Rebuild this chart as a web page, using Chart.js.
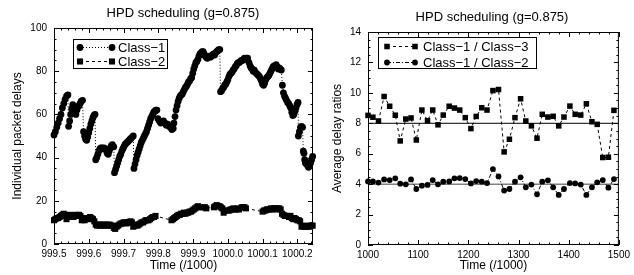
<!DOCTYPE html>
<html>
<head>
<meta charset="utf-8">
<script src="https://cdn.jsdelivr.net/npm/chart.js@4/dist/chart.umd.min.js"></script>
<style>
html,body{margin:0;padding:0;background:#fff;}
#wrap{position:relative;width:634px;height:275px;overflow:hidden;}
#left{position:absolute;left:0;top:0;}
#right{position:absolute;left:320px;top:0;}
</style>
</head>
<body>
<div id="wrap">
  <canvas id="left" width="320" height="275"></canvas>
  <canvas id="right" width="314" height="275"></canvas>
</div>
<script>
/* ===== Data: left panel (time /1000, delay) ===== */
const class1 = [
  [999.500,50.5],[999.504,52],[999.508,54],[999.512,56],[999.516,58],[999.520,60],[999.524,63],[999.528,65],[999.532,67],[999.536,68.5],[999.540,69],
  [999.542,54.5],[999.545,57],[999.548,60],[999.551,62.5],[999.554,64.5],[999.557,63],[999.560,61],[999.563,60],[999.566,62],[999.569,63.5],[999.572,64],[999.575,65],[999.578,66],[999.582,66.5],
  [999.585,52],[999.588,50],[999.591,48.5],[999.594,48],[999.597,49.5],[999.600,51.5],[999.603,53.5],[999.606,55.5],[999.609,57],[999.612,58.5],[999.615,59.5],[999.618,60],
  [999.620,39],[999.623,40],[999.626,41.5],[999.629,43],[999.632,44],[999.635,44.5],[999.638,44.5],[999.641,44],[999.644,44.5],[999.647,44],[999.650,43.5],[999.653,42],[999.656,41.5],[999.659,43],[999.662,44.5],[999.665,45.5],[999.668,46],[999.672,45],
  [999.674,33],[999.677,34.5],[999.680,36],[999.683,37.5],[999.686,39],[999.689,40.5],[999.692,41.5],[999.695,43],[999.698,44],[999.701,45],[999.704,46],[999.707,46.5],[999.710,47],[999.713,47.5],[999.716,48],[999.719,48.5],[999.722,49],[999.725,49.5],[999.728,50],
  [999.730,35],[999.733,37],[999.736,39],[999.739,41],[999.742,42.5],[999.745,44],[999.748,45.5],[999.751,47],[999.754,48],[999.757,49],[999.760,50],[999.763,51],[999.766,52],[999.769,53.5],[999.772,55],[999.775,56.5],[999.778,58],[999.781,59],[999.784,60],[999.787,61],[999.790,61.5],[999.793,62],[999.796,62],
  [999.799,58],[999.803,57],[999.807,56],[999.811,56.5],[999.815,57],[999.819,56],[999.823,55],[999.827,55.5],[999.831,54.5],[999.835,54],[999.839,53],[999.843,53.5],
  [999.845,56],[999.848,59],[999.851,62],[999.854,64],[999.857,66],[999.860,67.5],[999.863,68.5],[999.866,69],[999.869,69.5],[999.872,70.5],[999.875,71.5],[999.878,72.5],[999.881,73],[999.884,74],[999.887,75],[999.890,75.5],[999.893,76.5],[999.896,77],[999.899,79],[999.902,81],[999.905,82.5],[999.908,84],[999.911,84.5],[999.914,85.5],[999.917,87],[999.920,88],[999.923,88.5],[999.926,89],[999.929,89],
  [999.932,88],[999.935,87],[999.938,86.5],[999.941,86],[999.944,86.5],[999.947,87],[999.950,86.5],[999.953,87],[999.956,87.5],[999.959,88],[999.962,87.5],[999.965,88.5],[999.968,89],[999.971,89.5],[999.974,90],[999.977,90],
  [999.979,70.5],[999.982,71],[999.985,72],[999.988,72.5],[999.991,73.5],[999.994,74],[999.997,75],[1000.000,76],[1000.003,77.5],[1000.006,78.5],[1000.009,79],[1000.012,79.5],[1000.015,80.5],[1000.018,81],[1000.021,82],[1000.024,82.5],[1000.027,83.5],[1000.030,84],[1000.033,84],[1000.036,84.5],[1000.039,85],[1000.042,85],[1000.045,85.5],[1000.048,86],[1000.051,85.5],[1000.054,86],[1000.057,86],
  [1000.061,84],[1000.064,82.5],[1000.067,81.5],[1000.070,81],[1000.073,80],[1000.076,80.5],[1000.079,79.5],[1000.082,79],[1000.085,78.5],[1000.088,78],[1000.091,77.5],[1000.094,76.5],[1000.097,75.5],[1000.100,74],[1000.103,73.5],[1000.106,74.5],[1000.109,76],[1000.112,77],[1000.115,77.5],[1000.118,78],[1000.121,79],[1000.124,80],[1000.127,81],[1000.130,82],[1000.133,82.5],[1000.136,82],[1000.139,83],[1000.142,82],[1000.145,81],[1000.148,81.5],[1000.151,81],[1000.154,80.5],
  [1000.157,73.5],[1000.160,70],[1000.163,68.5],[1000.166,67.5],[1000.169,66.5],[1000.172,65.5],[1000.175,65],[1000.178,64],[1000.181,63],[1000.184,61],[1000.187,59.5],[1000.190,60],[1000.193,61.5],[1000.196,63],[1000.199,64.5],[1000.202,65.5],
  [1000.203,50],[1000.206,52],[1000.209,54],[1000.212,54.5],[1000.215,54],
  [1000.217,43],[1000.219,42],[1000.221,39],[1000.223,37.5],[1000.226,37],[1000.229,36.5],[1000.232,35.5],[1000.235,36],[1000.238,37.5],[1000.241,39],[1000.244,40.5]
];
const class2 = [
  [999.500,11],[999.504,11.5],[999.508,12],[999.512,12],[999.516,12.5],[999.520,13],[999.524,13.5],[999.528,14],[999.532,13.5],[999.536,11.5],[999.540,12.5],[999.544,13],[999.548,13.5],[999.552,13],[999.556,12.5],[999.560,13],[999.564,13.5],[999.568,13],[999.572,13.5],[999.576,13],
  [999.580,11],[999.584,11.5],[999.588,11],[999.592,12],[999.596,11.5],[999.600,12],[999.604,12.5],[999.608,12],[999.612,11.5],[999.616,10.5],[999.620,9],[999.624,8.5],[999.628,9],[999.632,8.5],[999.636,9],[999.640,8.5],[999.644,9],[999.648,8.5],[999.652,9],[999.656,8.5],[999.660,9],[999.664,8.5],[999.668,8.5],
  [999.672,7.5],[999.676,7],[999.680,8],[999.684,8.5],[999.688,9],[999.692,9.5],[999.696,9.5],[999.700,10],[999.704,10],[999.708,9.5],[999.712,10],[999.716,10],[999.720,10.5],[999.724,10],[999.728,8],[999.732,8.5],[999.736,9],[999.740,8.5],[999.744,9],[999.748,9.5],[999.752,10],[999.756,10],[999.760,10.5],[999.764,11],[999.768,11],[999.772,11],[999.776,11.5],[999.780,12],[999.784,12.5],[999.788,12.5],[999.792,13],
  [999.838,11],[999.842,11.5],[999.846,12],[999.850,12.5],[999.854,13],[999.858,13.5],[999.862,13.5],[999.866,14],[999.870,14],[999.874,14.5],[999.878,14],[999.882,14.5],[999.886,14.5],[999.890,15],[999.894,15],[999.898,15.5],[999.902,16],[999.906,16.5],[999.910,17],[999.914,17.5],[999.918,17],
  [999.930,17],[999.934,17],[999.938,16.5],
  [999.960,17],[999.964,17.5],[999.968,18],[999.972,17.5],[999.976,17.5],[999.980,17],[999.984,16.5],[999.988,14.5],[999.992,15.5],
  [1000.000,15.5],[1000.004,15.5],[1000.008,16],[1000.012,16],[1000.016,16.5],[1000.020,16],[1000.024,16],[1000.028,16.5],[1000.032,16],
  [1000.040,17],[1000.044,17],[1000.048,17],[1000.052,16.5],
  [1000.100,15],[1000.104,15.5],[1000.108,15.5],[1000.112,16],[1000.116,16],[1000.120,16],[1000.124,16.5],[1000.128,16],[1000.132,16.5],[1000.136,16.5],[1000.140,16],[1000.144,16.5],[1000.148,16.5],[1000.152,16],
  [1000.156,14],[1000.160,13.5],[1000.164,13],[1000.168,13],[1000.172,13],[1000.176,12.5],[1000.180,13],[1000.184,12],[1000.188,11.5],[1000.192,12],[1000.196,11.5],[1000.200,11],[1000.204,11],[1000.208,10.5],
  [1000.212,8],[1000.216,8.5],[1000.220,8],[1000.224,8],[1000.228,8],[1000.232,8.5],[1000.236,8],[1000.240,8.5],[1000.244,8.5]
];
const leftXTicks = [999.5, 999.6, 999.7, 999.8, 999.9, 1000.0, 1000.1, 1000.2];
const leftYTicks = [0, 20, 40, 60, 80, 100];

/* ===== Data: right panel (time /1000, average delay ratio) ===== */
const ratioTimes = [1000, 1009.8, 1020.9, 1032.1, 1043.2, 1054.4, 1064.2, 1075.3, 1085.8, 1096.3,
  1107.4, 1118.6, 1129, 1139.5, 1150, 1161.8, 1172.3, 1182.8, 1193.9, 1205.1,
  1215.6, 1226.7, 1237.2, 1249, 1260.1, 1271.3, 1281.8, 1292.9, 1304.1, 1314.5,
  1325.7, 1336.8, 1347.3, 1358.5, 1369, 1380.1, 1390.6, 1402.4, 1412.9, 1424,
  1435.2, 1446.3, 1456.8, 1467.9, 1479.1, 1490.2];
const ratio13 = [8.52, 8.4, 8.15, 9.76, 9.12, 8.53, 6.84, 8.28, 8.35, 6.9,
  8.87, 8.17, 8.87, 7.9, 8.54, 9.12, 9.0, 8.87, 8.37, 7.65,
  8.45, 9.02, 8.87, 10.15, 10.22, 6.12, 6.95, 8.37, 9.61, 8.15,
  7.83, 7.02, 8.59, 8.41, 8.46, 7.83, 8.41, 9.13, 8.59, 8.54,
  9.28, 8.1, 7.93, 5.75, 5.77, 8.85];
const ratio12 = [4.18, 4.18, 4.1, 4.31, 4.27, 4.38, 4.03, 3.99, 4.31, 3.68,
  3.9, 3.95, 4.27, 3.99, 4.16, 4.18, 4.38, 4.4, 4.33, 4.05,
  4.2, 4.16, 4.07, 4.99, 4.51, 3.58, 3.68, 4.16, 4.45, 3.79,
  3.97, 3.33, 4.16, 4.25, 3.79, 3.29, 3.68, 4.07, 4.05, 3.97,
  3.29, 3.79, 4.12, 4.27, 3.77, 4.33];
const refLevels = [8, 4];
const rightXTicks = [1000, 1100, 1200, 1300, 1400, 1500];
const rightYTicks = [0, 2, 4, 6, 8, 10, 12, 14];

const FONT = "'Liberation Sans', Arial, Helvetica, sans-serif";
Chart.defaults.font.family = FONT;
Chart.defaults.color = '#000';

/* ===== Marker drawing (gnuplot-like filled points) ===== */
function marker(ctx, style, r, x, y){
  ctx.beginPath();
  if (style === 'rect'){ const s = r * Math.SQRT1_2; ctx.rect(x - s, y - s, 2*s, 2*s); }
  else ctx.arc(x, y, r, 0, Math.PI*2);
  ctx.fill();
}

/* ===== Frame, inward ticks, title and boxed legend ===== */
const frameTicks = {
  id: 'frameTicks',
  afterDatasetsDraw(chart, args, o){
    const {ctx, chartArea: a, scales: {x, y}} = chart;
    ctx.save();
    ctx.strokeStyle = '#000'; ctx.lineWidth = 1; ctx.setLineDash([]);
    ctx.strokeRect(a.left + .5, a.top + .5, a.right - a.left - 1, a.bottom - a.top - 1);
    ctx.beginPath();
    const xs = (step, len) => {
      const n = Math.round((x.max - x.min) / step);
      for (let i = 0; i <= n; i++){
        const p = Math.round(x.getPixelForValue(x.min + i*step)) + .5;
        ctx.moveTo(p, a.bottom); ctx.lineTo(p, a.bottom - len);
        ctx.moveTo(p, a.top); ctx.lineTo(p, a.top + len);
      }
    };
    const ys = (step, len) => {
      const n = Math.round((y.max - y.min) / step);
      for (let i = 0; i <= n; i++){
        const p = Math.round(y.getPixelForValue(y.min + i*step)) + .5;
        ctx.moveTo(a.left, p); ctx.lineTo(a.left + len, p);
        ctx.moveTo(a.right, p); ctx.lineTo(a.right - len, p);
      }
    };
    xs(o.xMinor, 2.5); ys(o.yMinor, 2.5);
    x.ticks.forEach(t => { const p = Math.round(x.getPixelForValue(t.value)) + .5;
      ctx.moveTo(p, a.bottom); ctx.lineTo(p, a.bottom - 5); ctx.moveTo(p, a.top); ctx.lineTo(p, a.top + 5); });
    y.ticks.forEach(t => { const p = Math.round(y.getPixelForValue(t.value)) + .5;
      ctx.moveTo(a.left, p); ctx.lineTo(a.left + 5, p); ctx.moveTo(a.right, p); ctx.lineTo(a.right - 5, p); });
    ctx.stroke();

    // title
    ctx.fillStyle = '#000';
    ctx.font = '13px ' + FONT;
    ctx.textAlign = 'center'; ctx.textBaseline = 'alphabetic';
    ctx.fillText(o.title, o.titleX, o.titleY);

    // legend box
    const L = o.legend;
    ctx.strokeRect(L.box[0] + .5, L.box[1] + .5, L.box[2] - L.box[0], L.box[3] - L.box[1]);
    ctx.font = '13px ' + FONT;
    ctx.textAlign = 'left'; ctx.textBaseline = 'middle';
    L.rows.forEach((ry, i) => {
      const ds = chart.data.datasets[i];
      ctx.beginPath();
      ctx.setLineDash(ds.borderDash || []);
      ctx.lineWidth = ds.borderWidth;
      ctx.moveTo(L.x0, ry + .5); ctx.lineTo(L.x1, ry + .5);
      ctx.stroke();
      ctx.setLineDash([]);
      marker(ctx, ds.pointStyle, ds.pointRadius, L.x0, ry + .5);
      marker(ctx, ds.pointStyle, ds.pointRadius, L.x1, ry + .5);
      ctx.fillText(ds.label, L.tx, ry + 1);
    });
    ctx.restore();
  }
};

const tickFont = {size: 10};
const titleFont = {size: 12};
function axisX(min, max, ticks, height, fmt){
  return {
    type: 'linear', min, max,
    afterFit: s => { s.height = height; },
    afterBuildTicks: s => { s.ticks = ticks.map(v => ({value: v})); },
    grid: {display: false, drawTicks: false}, border: {display: false},
    ticks: {padding: 4, font: tickFont, maxRotation: 0, autoSkip: false, callback: fmt},
    title: {display: true, text: 'Time (/1000)', font: titleFont, padding: {top: 0, bottom: 2}}
  };
}
function axisY(min, max, ticks, width, text){
  return {
    type: 'linear', min, max,
    afterFit: s => { s.width = width; },
    afterBuildTicks: s => { s.ticks = ticks.map(v => ({value: v})); },
    grid: {display: false, drawTicks: false}, border: {display: false},
    ticks: {padding: 7, font: tickFont, autoSkip: false},
    title: {display: true, text, font: titleFont, padding: {top: 10, bottom: 0}}
  };
}
const pts = arr => arr.map(p => ({x: p[0], y: p[1]}));
const pointDs = (label, data, style, r, dash) => ({
  label, data, showLine: true, clip: false,
  borderColor: '#000', borderWidth: 1, borderDash: dash,
  pointStyle: style, pointRadius: r, pointHoverRadius: r,
  pointBackgroundColor: '#000', pointBorderWidth: 0
});

/* ===== Left: individual packet delays ===== */
new Chart(document.getElementById('left'), {
  type: 'scatter',
  data: {datasets: [
    pointDs('Class\u22121', pts(class1), 'circle', 3.4, [1, 2]),
    pointDs('Class\u22122', pts(class2), 'rect', 4.3, [3, 3])
  ]},
  options: {
    responsive: false, animation: false, devicePixelRatio: 1,
    layout: {padding: {left: 0, top: 28, right: 7, bottom: 0}},
    plugins: {
      legend: {display: false}, tooltip: {enabled: false},
      frameTicks: {xMinor: 0.02, yMinor: 5, title: 'HPD scheduling (g=0.875)', titleX: 183, titleY: 17,
        legend: {box: [73, 39, 167, 68], rows: [47, 61], x0: 80, x1: 112, tx: 118}}
    },
    scales: {
      x: axisX(999.5, 1000.245, leftXTicks, 31, v => v.toFixed(1)),
      y: axisY(0, 100, leftYTicks, 54, 'Individual packet delays')
    }
  },
  plugins: [frameTicks]
});

/* ===== Right: average delay ratios ===== */
new Chart(document.getElementById('right'), {
  type: 'scatter',
  data: {datasets: [
    pointDs('Class\u22121 / Class\u22123', ratioTimes.map((t, i) => ({x: t, y: ratio13[i]})), 'rect', 3.9, [3, 3]),
    pointDs('Class\u22121 / Class\u22122', ratioTimes.map((t, i) => ({x: t, y: ratio12[i]})), 'circle', 2.9, [4, 2, 1, 2]),
    {data: [{x: 1000, y: refLevels[0]}, {x: 1500, y: refLevels[0]}], showLine: true, borderColor: '#000', borderWidth: 1, pointRadius: 0},
    {data: [{x: 1000, y: refLevels[1]}, {x: 1500, y: refLevels[1]}], showLine: true, borderColor: '#808080', borderWidth: 1.5, pointRadius: 0}
  ]},
  options: {
    responsive: false, animation: false, devicePixelRatio: 1,
    layout: {padding: {left: 0, top: 32, right: 12, bottom: 0}},
    plugins: {
      legend: {display: false}, tooltip: {enabled: false},
      frameTicks: {xMinor: 20, yMinor: 0.5, title: 'HPD scheduling (g=0.875)', titleX: 172, titleY: 21,
        legend: {box: [58, 37, 216, 68], rows: [46, 62], x0: 67, x1: 95, tx: 103}}
    },
    scales: {
      x: axisX(1000, 1500, rightXTicks, 30, v => String(v)),
      y: axisY(0, 14, rightYTicks, 48, 'Average delay ratios')
    }
  },
  plugins: [frameTicks]
});
</script>
</body>
</html>
